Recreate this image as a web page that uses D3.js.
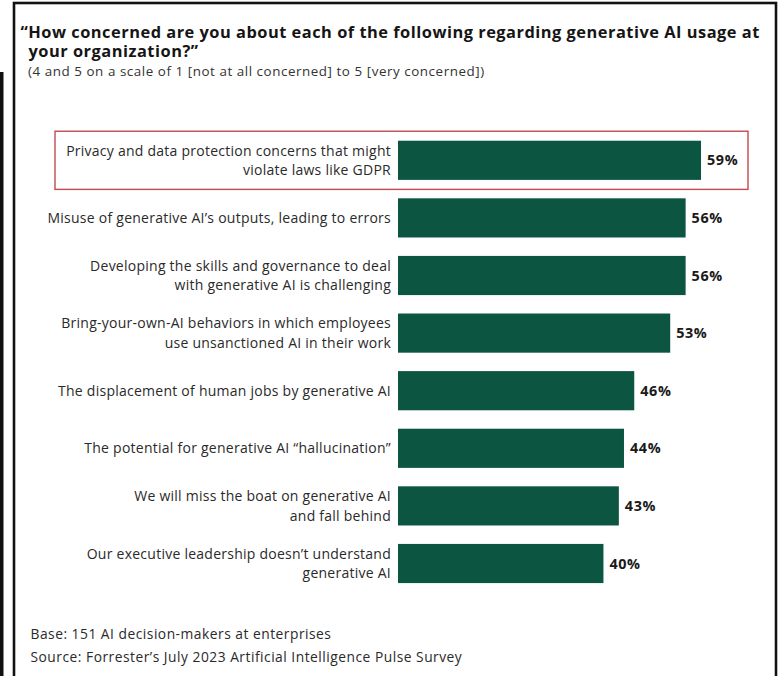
<!DOCTYPE html>
<html>
<head>
<meta charset="utf-8">
<script src="https://cdn.jsdelivr.net/npm/d3@7"></script>
<style>
  html, body { margin: 0; padding: 0; background: #fff; }
  svg { display: block; }
</style>
</head>
<body>
<svg id="chart" width="778" height="676"></svg>
<script>
// Survey concerns, each label split into its printed lines
const categories = [
  ["Privacy and data protection concerns that might", "violate laws like GDPR"],
  ["Misuse of generative AI\u2019s outputs, leading to errors"],
  ["Developing the skills and governance to deal", "with generative AI is challenging"],
  ["Bring-your-own-AI behaviors in which employees", "use unsanctioned AI in their work"],
  ["The displacement of human jobs by generative AI"],
  ["The potential for generative AI \u201challucination\u201d"],
  ["We will miss the boat on generative AI", "and fall behind"],
  ["Our executive leadership doesn\u2019t understand", "generative AI"]
];
const values = [59, 56, 56, 53, 46, 44, 43, 40];
const highlighted = [0];

const titleLines = [
  "\u201cHow concerned are you about each of the following regarding generative AI usage at",
  "your organization?\u201d"
];
const subtitle = "(4 and 5 on a scale of 1 [not at all concerned] to 5 [very concerned])";
const notes = [
  "Base: 151 AI decision-makers at enterprises",
  "Source: Forrester\u2019s July 2023 Artificial Intelligence Pulse Survey"
];

const FONT = "'Open Sans', 'Noto Sans', sans-serif";
const svg = d3.select("#chart");

// Frame lines
svg.append("rect").attr("x", 0).attr("y", 72).attr("width", 3.5).attr("height", 610).attr("fill", "#111");
svg.append("rect").attr("x", 14).attr("y", 3).attr("width", 762).attr("height", 700)
  .attr("fill", "none").attr("stroke", "#111").attr("stroke-width", 2.6);

// Title and subtitle
const title = svg.append("text")
  .attr("font-family", FONT).attr("font-weight", 700).attr("font-size", 16.4)
  .attr("letter-spacing", 0.5).attr("fill", "#151515");
title.append("tspan").attr("x", 20.5).attr("y", 37.5).text(titleLines[0]);
title.append("tspan").attr("x", 28.5).attr("y", 56.5).text(titleLines[1]);

svg.append("text").attr("x", 28).attr("y", 76)
  .attr("font-family", FONT).attr("font-size", 13.4).attr("letter-spacing", 0.55)
  .attr("fill", "#333").text(subtitle);

// Scales
const x = d3.scaleLinear().domain([0, 100]).range([398, 911.6]);
const y = d3.scaleBand().domain(d3.range(values.length))
  .range([131.5, 592.3]).paddingInner(0.32).paddingOuter(0.16);

const rows = svg.append("g").selectAll("g").data(values).join("g");

// Highlight box around the first row
rows.filter((d, i) => highlighted.includes(i)).append("rect")
  .attr("x", 55).attr("y", (d, i) => y(0) - 9.5)
  .attr("width", 693).attr("height", y.bandwidth() + 19)
  .attr("fill", "none").attr("stroke", "#c24a4f").attr("stroke-width", 1.4);

rows.append("rect")
  .attr("x", x(0))
  .attr("y", (d, i) => y(i))
  .attr("width", d => x(d) - x(0))
  .attr("height", y.bandwidth())
  .attr("fill", "#0b5541");

rows.append("text")
  .attr("x", d => x(d) + 6)
  .attr("y", (d, i) => y(i) + y.bandwidth() / 2 + 5)
  .attr("font-family", FONT).attr("font-weight", 700).attr("font-size", 14.4)
  .attr("letter-spacing", 0.6)
  .attr("fill", "#1a1a1a")
  .text(d => d + "%");

// Category labels, right-aligned against the bars
rows.each(function (d, i) {
  const lines = categories[i];
  const cy = y(i) + y.bandwidth() / 2;
  const lh = 19.5;
  const t = d3.select(this).append("text")
    .attr("text-anchor", "end")
    .attr("font-family", FONT).attr("font-size", 14).attr("letter-spacing", 0.25)
    .attr("fill", "#2a2a2a");
  lines.forEach((line, k) => {
    t.append("tspan").attr("x", 391)
      .attr("y", cy + 5 + (k - (lines.length - 1) / 2) * lh)
      .text(line);
  });
});

// Notes
notes.forEach((n, k) => {
  svg.append("text").attr("x", 30.5).attr("y", 639 + k * 23)
    .attr("font-family", FONT).attr("font-size", 13.8).attr("letter-spacing", 0.5)
    .attr("fill", "#2a2a2a").text(n);
});
</script>
</body>
</html>
